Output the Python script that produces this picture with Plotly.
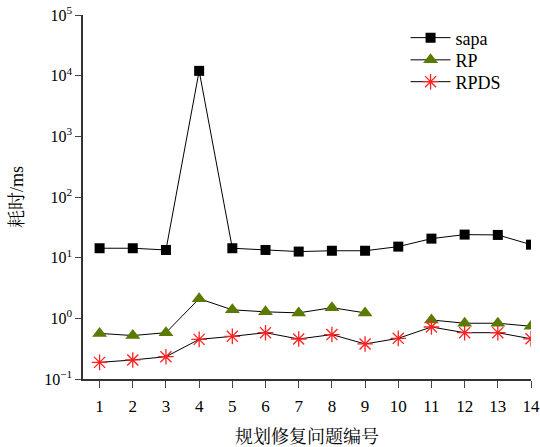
import plotly.graph_objects as go

x = list(range(1, 15))
sapa = [14.3, 14.3, 13.4, 12000, 14.3, 13.4, 12.6, 13.0, 13.0, 15.2, 20.6, 24.0, 23.7, 16.4]
rp = [0.565, 0.52, 0.58, 2.11, 1.38, 1.28, 1.23, 1.5, 1.23, None, 0.94, 0.83, 0.83, 0.74]
rpds = [0.188, 0.206, 0.233, 0.45, 0.505, 0.58, 0.456, 0.54, 0.378, 0.468, 0.72, 0.58, 0.58, 0.46]
ytick_vals = [0.1, 1, 10, 100, 1000, 10000, 100000]
ytick_text = ["10<sup>−1</sup>", "10<sup>0</sup>", "10<sup>1</sup>", "10<sup>2</sup>",
              "10<sup>3</sup>", "10<sup>4</sup>", "10<sup>5</sup>"]

serif = "Liberation Serif, Times New Roman, serif"
mixed = "Liberation Serif, Noto Serif CJK SC, Noto Sans CJK SC"

fig = go.Figure()
fig.add_trace(go.Scatter(x=x, y=sapa, name="sapa", mode="lines+markers", legend="legend",
                         line=dict(color="black", width=1),
                         marker=dict(symbol="square", size=10, color="black")))
fig.add_trace(go.Scatter(x=x, y=rp, name="RP", mode="lines+markers", legend="legend2",
                         line=dict(color="black", width=1), connectgaps=False,
                         marker=dict(symbol="triangle-up", size=13, color="#5a7a00")))
fig.add_trace(go.Scatter(x=x, y=rpds, name="RPDS", mode="lines+markers", legend="legend3",
                         line=dict(color="black", width=1),
                         marker=dict(symbol="asterisk-open", size=13, color="#ff2020",
                                     line=dict(color="#ff2020", width=1.3))))

leg = dict(x=0.72, xanchor="left", yanchor="middle", bgcolor="rgba(0,0,0,0)",
           font=dict(family=serif, size=18), itemwidth=40)

fig.update_layout(
    width=540, height=447,
    margin=dict(l=83, r=9, t=15, b=68),
    paper_bgcolor="white", plot_bgcolor="white",
    font=dict(family=serif, size=17, color="black"),
    showlegend=True,
    legend=dict(leg, y=0.937),
    legend2=dict(leg, y=0.876),
    legend3=dict(leg, y=0.816),
    xaxis=dict(range=[0.5, 14], tickvals=x, ticks="outside", ticklen=7, automargin=False,
               ticklabelstandoff=4, tickfont=dict(size=17),
               showline=True, linecolor="#333", linewidth=1.5, showgrid=False,
               zeroline=False,
               title=dict(text="规划修复问题编号", font=dict(family=mixed, size=18), standoff=16)),
    yaxis=dict(type="log", range=[-1, 5], tickvals=ytick_vals, ticktext=ytick_text,
               ticks="outside", ticklen=6, showline=True, linecolor="#333", linewidth=1.5,
               showgrid=False, zeroline=False, automargin=False, tickfont=dict(size=16),
               title=dict(text="耗时/ms", font=dict(family=mixed, size=18), standoff=16)),
)

fig.write_html("out.html", config={"displayModeBar": False},
               post_script="document.body.style.margin='0';document.body.style.overflow='hidden';")
